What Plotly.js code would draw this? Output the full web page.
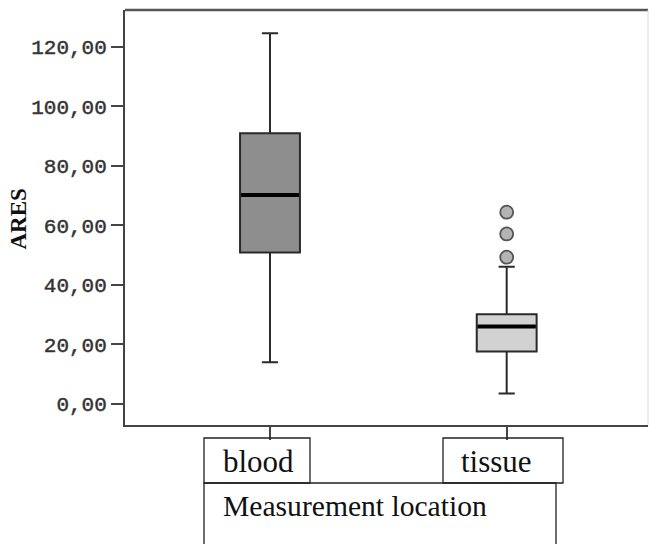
<!DOCTYPE html>
<html>
<head>
<meta charset="utf-8">
<script src="https://cdn.plot.ly/plotly-3.0.1.min.js"></script>
<style>
html,body{margin:0;padding:0;background:#fff;}
#chart{width:649px;height:544px;}
.ytick text{stroke:#333;stroke-width:0.45px;}
</style>
</head>
<body>
<div id="chart"></div>
<script>
// ---- data ----
const categories = ['blood', 'tissue'];
const lowerWhisker = [14.0, 3.5];
const q1 = [50.9, 17.6];
const median = [70.2, 26.0];
const q3 = [90.9, 30.1];
const upperWhisker = [124.5, 46.1];
const tissueOutliers = [49.3, 57.1, 64.4];
const tickVals = [0, 20, 40, 60, 80, 100, 120];
const yTitle = 'ARES';
const xTitle = 'Measurement location';
const fills = ['#8e8e8e', '#d2d2d2'];

// ---- layout helpers (pixel -> paper) ----
const W = 649, H = 544, L = 125, R = 1, T = 10, B = 119;
const pw = W - L - R, ph = H - T - B;
const xp = px => (px - L) / pw;
const yp = py => (H - B - py) / ph;

const traces = [];
categories.forEach((c, i) => {
  traces.push({
    type: 'box', x: [c],
    q1: [q1[i]], median: [median[i]], q3: [q3[i]],
    lowerfence: [lowerWhisker[i]], upperfence: [upperWhisker[i]],
    width: 0.253, whiskerwidth: 0.27,
    fillcolor: fills[i],
    line: { color: '#2a2a2a', width: 2 },
    boxpoints: false, hoverinfo: 'skip', showlegend: false
  });
  // thick median line
  traces.push({
    type: 'box', x: [c],
    q1: [median[i]], median: [median[i]], q3: [median[i]],
    lowerfence: [median[i]], upperfence: [median[i]],
    width: 0.245, whiskerwidth: 0,
    fillcolor: 'rgba(0,0,0,0)',
    line: { color: '#000', width: 4 },
    boxpoints: false, hoverinfo: 'skip', showlegend: false
  });
});
traces.push({
  type: 'scatter', mode: 'markers',
  x: tissueOutliers.map(() => categories[1]), y: tissueOutliers,
  marker: { symbol: 'circle', size: 13, color: '#b4b4b4', line: { color: '#555', width: 1.8 } },
  hoverinfo: 'skip', showlegend: false
});

// label boxes below axis
const shapes = [
  { x0: 204, x1: 310, y0: 438, y1: 483 },
  { x0: 443, x1: 563, y0: 438, y1: 483 },
  { x0: 204, x1: 556, y0: 483, y1: 560 }
].map(s => ({
  type: 'rect', xref: 'paper', yref: 'paper',
  x0: xp(s.x0), x1: xp(s.x1), y0: yp(s.y1), y1: yp(s.y0),
  line: { color: '#222', width: 1.3 }, fillcolor: 'rgba(0,0,0,0)'
}));
// top frame line
shapes.push({ type: 'line', xref: 'paper', yref: 'paper', x0: 0, x1: 1, y0: 1, y1: 1,
  line: { color: '#555', width: 2.5 } });
// faint right edge
shapes.push({ type: 'line', xref: 'paper', yref: 'paper', x0: 1, x1: 1, y0: 0, y1: 1,
  line: { color: '#d8d8d8', width: 1 } });

const serif = 'Liberation Serif, Times New Roman, serif';
const annotations = [
  { text: categories[0], x: xp(221), y: yp(461), size: 31 },
  { text: categories[1], x: xp(459), y: yp(461), size: 31 },
  { text: xTitle, x: xp(221), y: yp(506), size: 29.6 }
].map(a => ({
  text: a.text, xref: 'paper', yref: 'paper', x: a.x, y: a.y,
  xanchor: 'left', yanchor: 'middle', showarrow: false,
  font: { family: serif, size: a.size, color: '#111' }
}));
annotations.push({
  text: '<b>' + yTitle + '</b>', xref: 'paper', yref: 'paper',
  x: xp(17.5), y: yp(219), xanchor: 'center', yanchor: 'middle',
  textangle: -90, showarrow: false,
  font: { family: serif, size: 23, color: '#111' }
});

const layout = {
  width: W, height: H,
  margin: { l: L, r: R, t: T, b: B, pad: 0 },
  paper_bgcolor: '#fff', plot_bgcolor: '#fff',
  separators: ',.',
  showlegend: false,
  xaxis: {
    type: 'category', categoryarray: categories, categoryorder: 'array',
    range: [-0.6126, 1.597], showgrid: false, zeroline: false,
    showline: true, linecolor: '#444', linewidth: 2,
    ticks: 'outside', ticklen: 13, tickwidth: 2, tickcolor: '#444',
    showticklabels: false, fixedrange: true
  },
  yaxis: {
    range: [-7.05, 132.3], showgrid: false, zeroline: false,
    showline: true, linecolor: '#444', linewidth: 2,
    ticks: 'outside', ticklen: 12, tickwidth: 2, tickcolor: '#444',
    tickmode: 'array', tickvals: tickVals, tickformat: '.2f',
    tickfont: { family: 'Liberation Mono, Courier New, monospace', size: 21, color: '#333' },
    fixedrange: true
  },
  shapes: shapes,
  annotations: annotations
};

Plotly.newPlot('chart', traces, layout, { displayModeBar: false, staticPlot: true });
</script>
</body>
</html>
